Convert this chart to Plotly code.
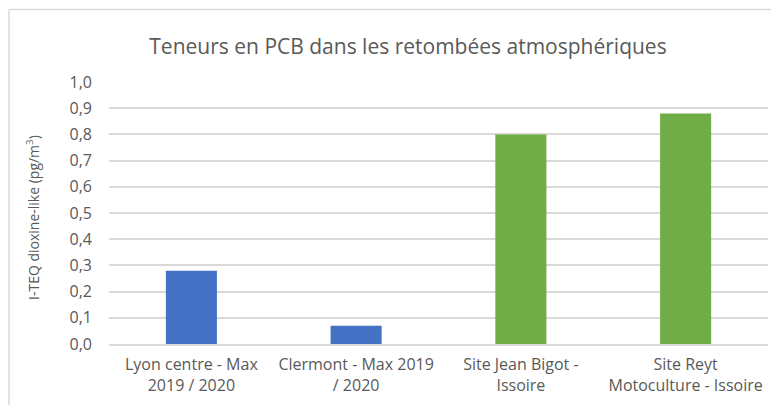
import plotly.graph_objects as go

categories = ["Lyon centre - Max<br>2019 / 2020", "Clermont - Max 2019<br>/ 2020",
              "Site Jean Bigot -<br>Issoire", "Site Reyt<br>Motoculture - Issoire"]
values = [0.28, 0.07, 0.80, 0.88]
colors = ["#4472C4", "#4472C4", "#70AD47", "#70AD47"]
tick_vals = [0, 0.1, 0.2, 0.3, 0.4, 0.5, 0.6, 0.7, 0.8, 0.9, 1.0]

FONT = "Open Sans"
GREY = "#595959"
BORDER = "#d9d9d9"

fig = go.Figure(go.Bar(x=categories, y=values, marker=dict(color=colors, line=dict(width=0)), width=0.31))

fig.update_layout(
    width=771, height=397,
    margin=dict(l=101, r=11, t=74, b=61),
    paper_bgcolor="white", plot_bgcolor="white",
    separators=",.",
    showlegend=False,
    font=dict(family=FONT, color=GREY, size=14),
    title=dict(text="Teneurs en PCB dans les retombées atmosphériques",
               xref="paper", x=0.4537, xanchor="center", y=0.902, yanchor="middle",
               font=dict(family=FONT, size=21, color=GREY)),
    xaxis=dict(showgrid=False, showline=True, linecolor=BORDER, linewidth=1.5,
               automargin=False,
               tickfont=dict(size=16, color=GREY), ticks="", ticklabelstandoff=5),
    yaxis=dict(range=[0, 1.0], tickvals=tick_vals, tickformat=".1f",
               showgrid=True, gridcolor=BORDER, gridwidth=1.5, automargin=False,
               zeroline=False, showline=False, ticks="",
               tickfont=dict(size=16, color=GREY), ticklabelstandoff=16),
    annotations=[dict(text="I-TEQ dioxine-like (pg/m<sup>3</sup>)", textangle=-90,
                      xref="paper", yref="paper", x=-0.1153, y=0.481,
                      xanchor="center", yanchor="middle", showarrow=False,
                      font=dict(family=FONT, size=14, color=GREY))],
    shapes=[
        dict(type="line", xref="paper", yref="paper", x0=-0.1517, x1=-0.1517, y0=-0.3, y1=1.2767,
             line=dict(color=BORDER, width=1.5)),
        dict(type="line", xref="paper", yref="paper", x0=-0.1517, x1=1.02, y0=1.2767, y1=1.2767,
             line=dict(color=BORDER, width=1.5)),
    ],
)

fig.write_html("out.html")
